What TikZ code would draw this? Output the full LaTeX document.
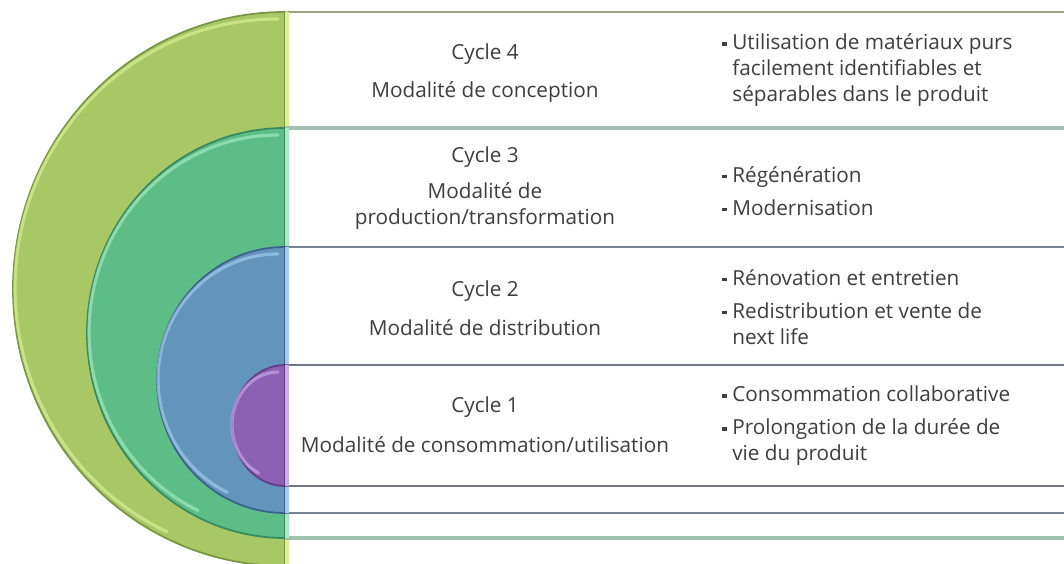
\documentclass[tikz,border=0pt]{standalone}
\usepackage{fontspec}
\setmainfont{Open Sans}
\usepackage{tikz}
\usetikzlibrary{positioning}
\definecolor{cycleFour}{RGB}{168,200,102}
\definecolor{cycleFourDark}{RGB}{120,150,70}
\definecolor{cycleFourLight}{RGB}{220,240,150}
\definecolor{cycleThree}{RGB}{92,190,134}
\definecolor{cycleThreeDark}{RGB}{56,138,94}
\definecolor{cycleThreeLight}{RGB}{165,235,195}
\definecolor{cycleTwo}{RGB}{98,148,188}
\definecolor{cycleTwoDark}{RGB}{58,98,138}
\definecolor{cycleTwoLight}{RGB}{165,205,240}
\definecolor{cycleOne}{RGB}{140,96,178}
\definecolor{cycleOneDark}{RGB}{98,62,138}
\definecolor{cycleOneLight}{RGB}{205,170,235}
\definecolor{textColor}{RGB}{62,62,62}
\definecolor{ruleFour}{RGB}{150,165,128}
\definecolor{ruleThree}{RGB}{160,192,176}
\definecolor{ruleTwo}{RGB}{118,132,150}
\definecolor{ruleOne}{RGB}{112,118,134}
\newcommand{\pucecarree}{\makebox[0.2cm][l]{\rule[0.35ex]{0.09cm}{0.07cm}}}
\newcommand{\retrait}{\hspace*{0.2cm}}

\begin{document}
\begin{tikzpicture}[x=0.02cm,y=0.02cm]

          \tikzstyle{halfDisc} = [line width=1pt];
          \tikzstyle{highlight} = [line width=1.8pt, line cap=round, opacity=0.65];
          \tikzstyle{rowBox} = [fill=white, line width=1.3pt];
          \tikzstyle{sideBar} = [line width=2.5pt];
          \tikzstyle{cycleText} = [text=textColor, inner sep=0pt, font=\fontsize{11.8}{14.8}\selectfont];
          \tikzstyle{actions} = [cycleText, anchor=west, align=left];

          \useasboundingbox (0,0) rectangle (1064,564);
          \fill[white] (0,0) rectangle (1064,564);

          % cycle 4
          \draw[halfDisc, draw=cycleFourDark, fill=cycleFour] (285,552) arc[start angle=90, end angle=270, x radius=272, y radius=277] -- cycle;
          \draw[highlight, cycleFourLight] (278,545) arc[start angle=90, end angle=245, x radius=263, y radius=269];
          \fill[rowBox] (287,552) rectangle (1070,-4);
          \draw[rowBox, draw=ruleFour] (1070,552) -- (287,552);
          \draw[sideBar, cycleFourLight] (287,552) -- (287,-4);

          % cycle 3
          \draw[halfDisc, draw=cycleThreeDark, fill=cycleThree] (285,436) arc[start angle=90, end angle=270, x radius=198, y radius=205] -- cycle;
          \draw[highlight, cycleThreeLight] (278,429) arc[start angle=90, end angle=245, x radius=189, y radius=197];
          \draw[rowBox, draw=ruleThree, line width=2pt] (1070,436) -- (287,436) -- (287,26) -- (1070,26);
          \draw[sideBar, cycleThreeLight] (287,436) -- (287,26);

          % cycle 2
          \draw[halfDisc, draw=cycleTwoDark, fill=cycleTwo] (285,317) arc[start angle=90, end angle=270, x radius=128, y radius=133] -- cycle;
          \draw[highlight, cycleTwoLight] (278,310) arc[start angle=90, end angle=245, x radius=120, y radius=125];
          \draw[rowBox, draw=ruleTwo] (1070,317) -- (287,317) -- (287,51) -- (1070,51);
          \draw[sideBar, cycleTwoLight] (287,317) -- (287,51);

          % cycle 1
          \draw[halfDisc, draw=cycleOneDark, fill=cycleOne] (285,199) arc[start angle=90, end angle=270, x radius=53, y radius=60.5] -- cycle;
          \draw[highlight, cycleOneLight] (278,192) arc[start angle=90, end angle=245, x radius=46, y radius=53];
          \draw[rowBox, draw=ruleOne] (1070,199) -- (287,199) -- (287,78) -- (1070,78);
          \draw[sideBar, cycleOneLight] (287,199) -- (287,78);

          % left column
          \node[cycleText] (c4) at (485,510) {Cycle 4};
          \node[cycleText] (m4) at (485,472) {Modalité de conception};
          \node[cycleText] (c3) at (485,407) {Cycle 3};
          \node[cycleText, align=center] (m3) at (485,358) {Modalité de\\production/transformation};
          \node[cycleText] (c2) at (485,273) {Cycle 2};
          \node[cycleText] (m2) at (485,236) {Modalité de distribution};
          \node[cycleText] (c1) at (485,157) {Cycle 1};
          \node[cycleText] (m1) at (485,119) {Modalité de consommation/utilisation};

          % right column
          \node[actions] (a4) at (722,494) {\pucecarree Utilisation de matériaux purs\\\retrait facilement identifiables et\\\retrait séparables dans le produit};
          \node[actions] (a3) at (722,373) {\pucecarree Régénération\\[0.14cm]\pucecarree Modernisation};
          \node[actions] (a2) at (722,257) {\pucecarree Rénovation et entretien\\[0.14cm]\pucecarree Redistribution et vente de\\\retrait next life};
          \node[actions] (a1) at (722,138) {\pucecarree Consommation collaborative\\[0.14cm]\pucecarree Prolongation de la durée de\\\retrait vie du produit};
        \end{tikzpicture}
\end{document}
